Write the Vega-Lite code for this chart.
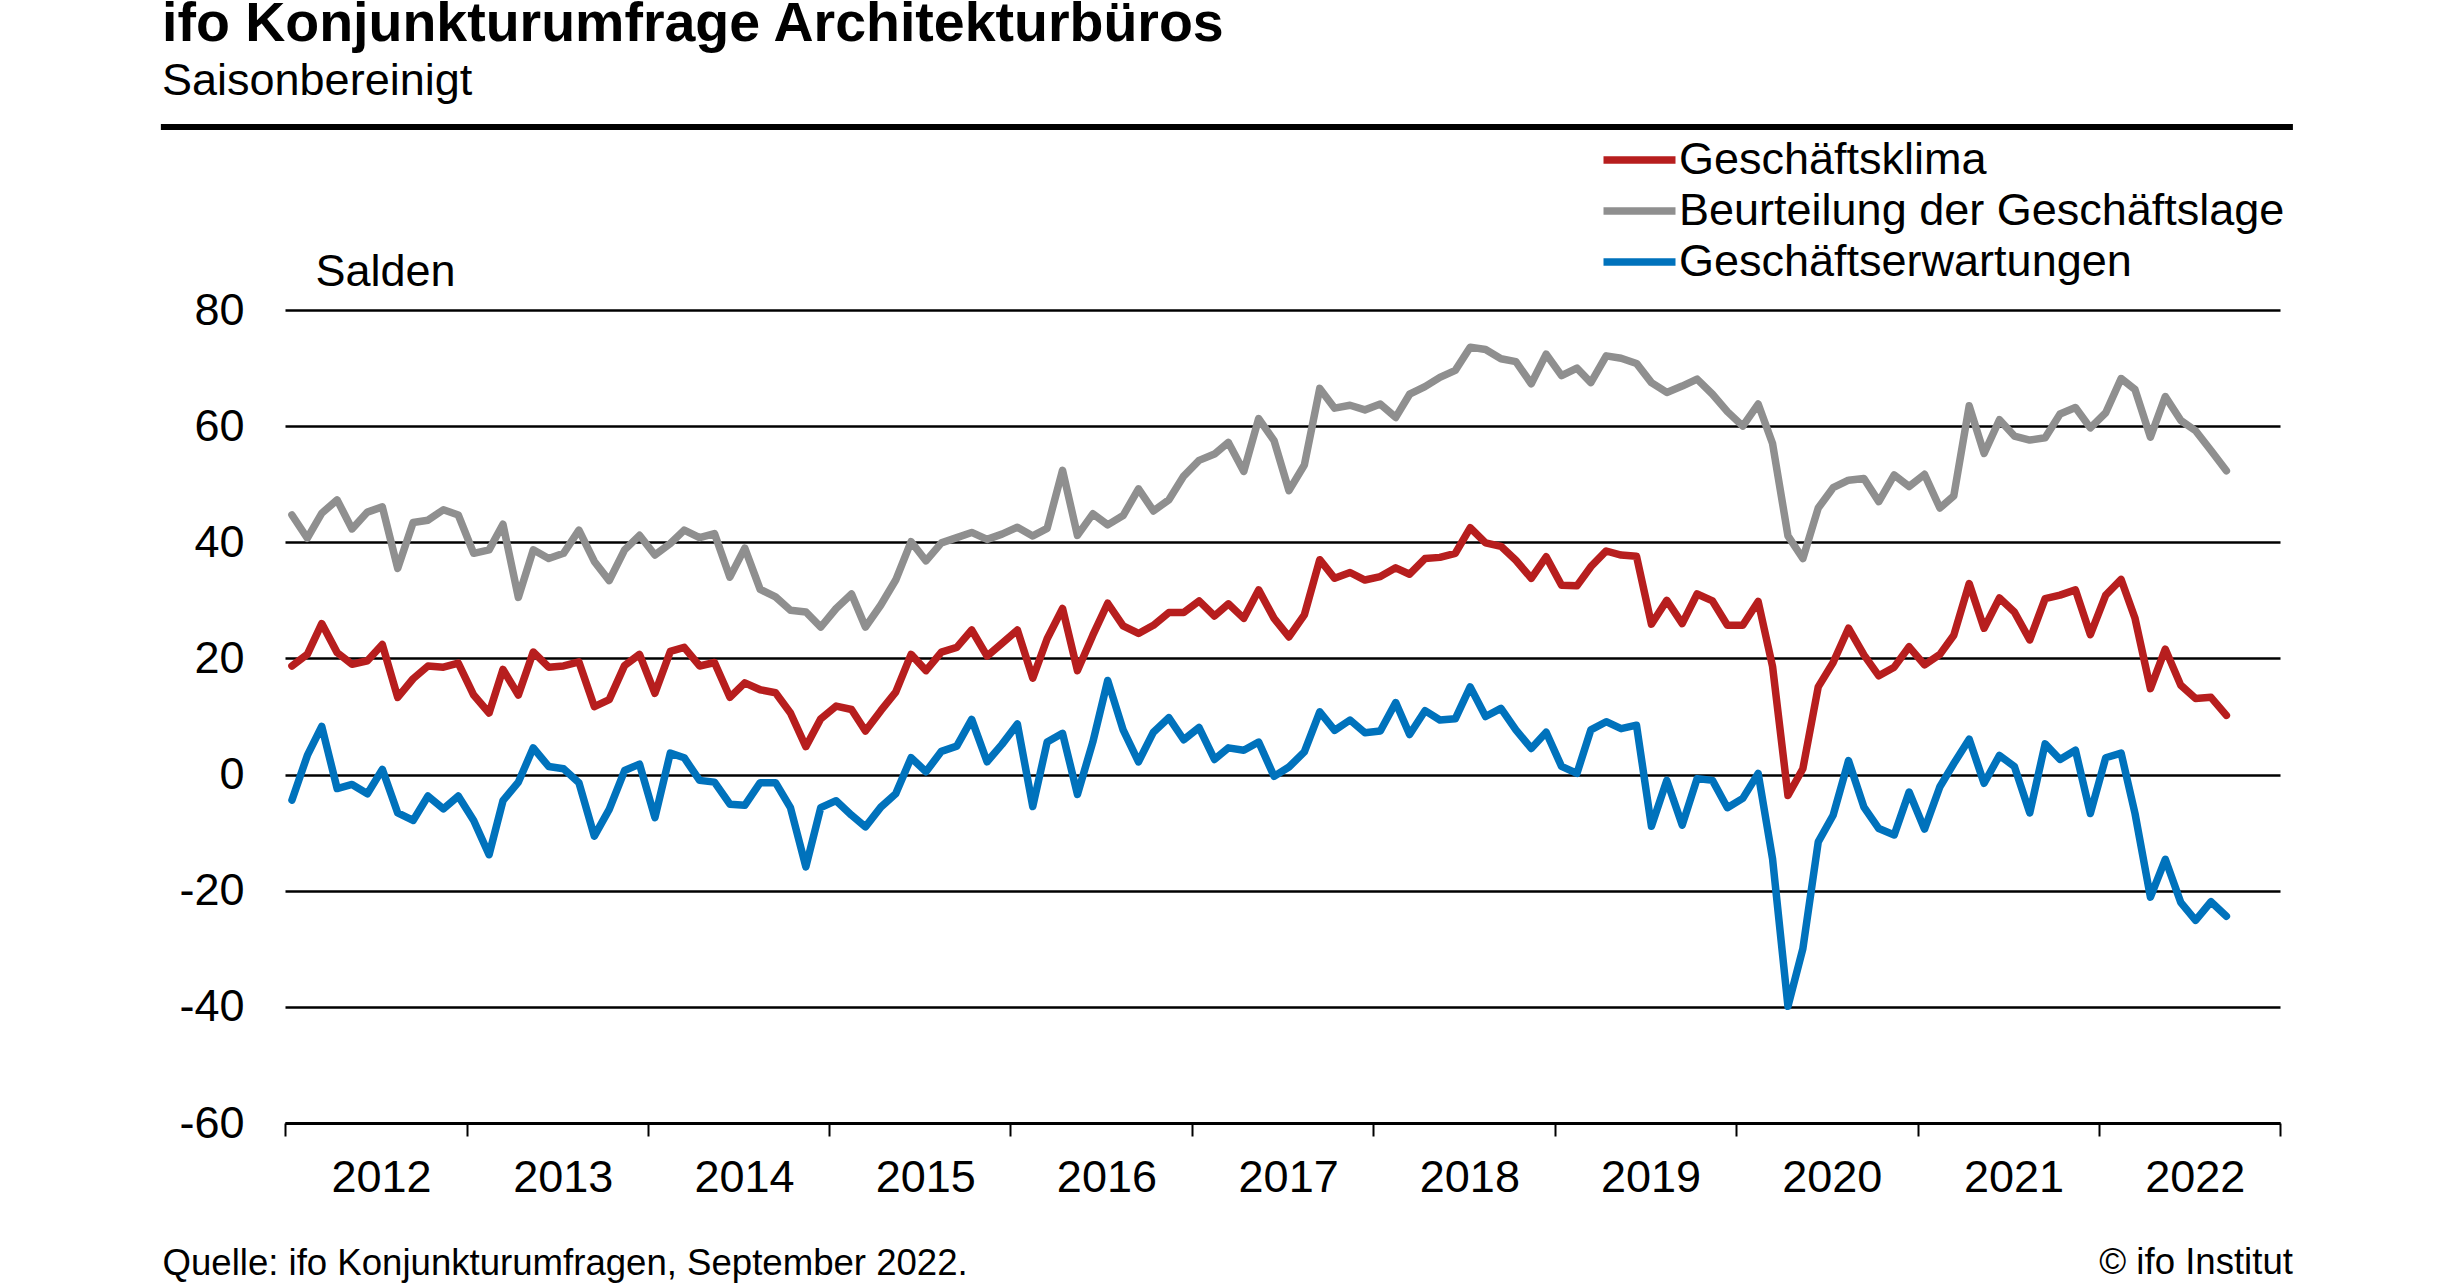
{"$schema":"https://vega.github.io/schema/vega-lite/v6.json","width":1995,"height":813,"autosize":{"type":"none"},"padding":{"left":285,"top":310,"right":174,"bottom":161},"background":"white","config":{"font":"Liberation Sans","view":{"stroke":null}},"title":{"text":"ifo Konjunkturumfrage Architekturbüros","subtitle":"Saisonbereinigt","anchor":"start","frame":"group","dx":-123,"offset":20,"font":"Liberation Sans","fontSize":55.5,"fontWeight":"bold","color":"black","subtitleFont":"Liberation Sans","subtitleFontSize":45,"subtitleColor":"black","subtitlePadding":6.5},"data":{"values":[
{"d":"2012-01-15","Geschäftsklima":18.7,"Beurteilung der Geschäftslage":44.7,"Geschäftserwartungen":-4.4},
{"d":"2012-02-15","Geschäftsklima":20.7,"Beurteilung der Geschäftslage":40.7,"Geschäftserwartungen":3.3},
{"d":"2012-03-15","Geschäftsklima":26,"Beurteilung der Geschäftslage":45,"Geschäftserwartungen":8.3},
{"d":"2012-04-15","Geschäftsklima":21,"Beurteilung der Geschäftslage":47.3,"Geschäftserwartungen":-2.4},
{"d":"2012-05-15","Geschäftsklima":19,"Beurteilung der Geschäftslage":42.3,"Geschäftserwartungen":-1.7},
{"d":"2012-06-15","Geschäftsklima":19.6,"Beurteilung der Geschäftslage":45.2,"Geschäftserwartungen":-3.3},
{"d":"2012-07-15","Geschäftsklima":22.4,"Beurteilung der Geschäftslage":46.1,"Geschäftserwartungen":0.9},
{"d":"2012-08-15","Geschäftsklima":13.3,"Beurteilung der Geschäftslage":35.5,"Geschäftserwartungen":-6.6},
{"d":"2012-09-15","Geschäftsklima":16.5,"Beurteilung der Geschäftslage":43.4,"Geschäftserwartungen":-7.9},
{"d":"2012-10-15","Geschäftsklima":18.7,"Beurteilung der Geschäftslage":43.8,"Geschäftserwartungen":-3.7},
{"d":"2012-11-15","Geschäftsklima":18.5,"Beurteilung der Geschäftslage":45.6,"Geschäftserwartungen":-5.9},
{"d":"2012-12-15","Geschäftsklima":19.2,"Beurteilung der Geschäftslage":44.7,"Geschäftserwartungen":-3.7},
{"d":"2013-01-15","Geschäftsklima":13.7,"Beurteilung der Geschäftslage":38.1,"Geschäftserwartungen":-7.9},
{"d":"2013-02-15","Geschäftsklima":10.6,"Beurteilung der Geschäftslage":38.7,"Geschäftserwartungen":-13.8},
{"d":"2013-03-15","Geschäftsklima":18.1,"Beurteilung der Geschäftslage":43.1,"Geschäftserwartungen":-4.5},
{"d":"2013-04-15","Geschäftsklima":13.7,"Beurteilung der Geschäftslage":30.5,"Geschäftserwartungen":-1.3},
{"d":"2013-05-15","Geschäftsklima":21.1,"Beurteilung der Geschäftslage":38.7,"Geschäftserwartungen":4.6},
{"d":"2013-06-15","Geschäftsklima":18.5,"Beurteilung der Geschäftslage":37.2,"Geschäftserwartungen":1.4},
{"d":"2013-07-15","Geschäftsklima":18.7,"Beurteilung der Geschäftslage":38.1,"Geschäftserwartungen":1},
{"d":"2013-08-15","Geschäftsklima":19.4,"Beurteilung der Geschäftslage":42.1,"Geschäftserwartungen":-1.4},
{"d":"2013-09-15","Geschäftsklima":11.7,"Beurteilung der Geschäftslage":36.7,"Geschäftserwartungen":-10.6},
{"d":"2013-10-15","Geschäftsklima":12.9,"Beurteilung der Geschäftslage":33.4,"Geschäftserwartungen":-6},
{"d":"2013-11-15","Geschäftsklima":18.8,"Beurteilung der Geschäftslage":38.7,"Geschäftserwartungen":0.7},
{"d":"2013-12-15","Geschäftsklima":20.7,"Beurteilung der Geschäftslage":41.2,"Geschäftserwartungen":1.8},
{"d":"2014-01-15","Geschäftsklima":14,"Beurteilung der Geschäftslage":37.8,"Geschäftserwartungen":-7.4},
{"d":"2014-02-15","Geschäftsklima":21.2,"Beurteilung der Geschäftslage":39.8,"Geschäftserwartungen":3.7},
{"d":"2014-03-15","Geschäftsklima":21.9,"Beurteilung der Geschäftslage":42.1,"Geschäftserwartungen":2.9},
{"d":"2014-04-15","Geschäftsklima":18.7,"Beurteilung der Geschäftslage":40.8,"Geschäftserwartungen":-1},
{"d":"2014-05-15","Geschäftsklima":19.3,"Beurteilung der Geschäftslage":41.5,"Geschäftserwartungen":-1.3},
{"d":"2014-06-15","Geschäftsklima":13.3,"Beurteilung der Geschäftslage":34,"Geschäftserwartungen":-5.1},
{"d":"2014-07-15","Geschäftsklima":15.8,"Beurteilung der Geschäftslage":39,"Geschäftserwartungen":-5.3},
{"d":"2014-08-15","Geschäftsklima":14.6,"Beurteilung der Geschäftslage":31.9,"Geschäftserwartungen":-1.4},
{"d":"2014-09-15","Geschäftsklima":14.1,"Beurteilung der Geschäftslage":30.6,"Geschäftserwartungen":-1.4},
{"d":"2014-10-15","Geschäftsklima":10.6,"Beurteilung der Geschäftslage":28.3,"Geschäftserwartungen":-5.7},
{"d":"2014-11-15","Geschäftsklima":4.8,"Beurteilung der Geschäftslage":28,"Geschäftserwartungen":-15.9},
{"d":"2014-12-15","Geschäftsklima":9.6,"Beurteilung der Geschäftslage":25.4,"Geschäftserwartungen":-5.7},
{"d":"2015-01-15","Geschäftsklima":11.8,"Beurteilung der Geschäftslage":28.6,"Geschäftserwartungen":-4.5},
{"d":"2015-02-15","Geschäftsklima":11.2,"Beurteilung der Geschäftslage":31.1,"Geschäftserwartungen":-7},
{"d":"2015-03-15","Geschäftsklima":7.5,"Beurteilung der Geschäftslage":25.4,"Geschäftserwartungen":-9},
{"d":"2015-04-15","Geschäftsklima":11,"Beurteilung der Geschäftslage":29.2,"Geschäftserwartungen":-5.6},
{"d":"2015-05-15","Geschäftsklima":14.2,"Beurteilung der Geschäftslage":33.5,"Geschäftserwartungen":-3.3},
{"d":"2015-06-15","Geschäftsklima":20.7,"Beurteilung der Geschäftslage":40.1,"Geschäftserwartungen":2.9},
{"d":"2015-07-15","Geschäftsklima":17.9,"Beurteilung der Geschäftslage":36.8,"Geschäftserwartungen":0.5},
{"d":"2015-08-15","Geschäftsklima":21.1,"Beurteilung der Geschäftslage":39.9,"Geschäftserwartungen":4},
{"d":"2015-09-15","Geschäftsklima":21.9,"Beurteilung der Geschäftslage":40.8,"Geschäftserwartungen":4.9},
{"d":"2015-10-15","Geschäftsklima":24.9,"Beurteilung der Geschäftslage":41.7,"Geschäftserwartungen":9.5},
{"d":"2015-11-15","Geschäftsklima":20.4,"Beurteilung der Geschäftslage":40.5,"Geschäftserwartungen":2.2},
{"d":"2015-12-15","Geschäftsklima":22.6,"Beurteilung der Geschäftslage":41.4,"Geschäftserwartungen":5.2},
{"d":"2016-01-15","Geschäftsklima":24.9,"Beurteilung der Geschäftslage":42.6,"Geschäftserwartungen":8.7},
{"d":"2016-02-15","Geschäftsklima":16.6,"Beurteilung der Geschäftslage":41.1,"Geschäftserwartungen":-5.5},
{"d":"2016-03-15","Geschäftsklima":23.4,"Beurteilung der Geschäftslage":42.4,"Geschäftserwartungen":5.6},
{"d":"2016-04-15","Geschäftsklima":28.6,"Beurteilung der Geschäftslage":52.4,"Geschäftserwartungen":7.1},
{"d":"2016-05-15","Geschäftsklima":17.9,"Beurteilung der Geschäftslage":41.2,"Geschäftserwartungen":-3.4},
{"d":"2016-06-15","Geschäftsklima":24,"Beurteilung der Geschäftslage":44.9,"Geschäftserwartungen":5.6},
{"d":"2016-07-15","Geschäftsklima":29.5,"Beurteilung der Geschäftslage":43,"Geschäftserwartungen":16.2},
{"d":"2016-08-15","Geschäftsklima":25.6,"Beurteilung der Geschäftslage":44.6,"Geschäftserwartungen":7.7},
{"d":"2016-09-15","Geschäftsklima":24.3,"Beurteilung der Geschäftslage":49.2,"Geschäftserwartungen":2.2},
{"d":"2016-10-15","Geschäftsklima":25.7,"Beurteilung der Geschäftslage":45.4,"Geschäftserwartungen":7.3},
{"d":"2016-11-15","Geschäftsklima":27.9,"Beurteilung der Geschäftslage":47.3,"Geschäftserwartungen":9.8},
{"d":"2016-12-15","Geschäftsklima":27.9,"Beurteilung der Geschäftslage":51.4,"Geschäftserwartungen":6},
{"d":"2017-01-15","Geschäftsklima":29.9,"Beurteilung der Geschäftslage":54.1,"Geschäftserwartungen":8.1},
{"d":"2017-02-15","Geschäftsklima":27.3,"Beurteilung der Geschäftslage":55.2,"Geschäftserwartungen":2.6},
{"d":"2017-03-15","Geschäftsklima":29.4,"Beurteilung der Geschäftslage":57.2,"Geschäftserwartungen":4.6},
{"d":"2017-04-15","Geschäftsklima":26.9,"Beurteilung der Geschäftslage":52.2,"Geschäftserwartungen":4.2},
{"d":"2017-05-15","Geschäftsklima":31.8,"Beurteilung der Geschäftslage":61.3,"Geschäftserwartungen":5.6},
{"d":"2017-06-15","Geschäftsklima":26.9,"Beurteilung der Geschäftslage":57.5,"Geschäftserwartungen":-0.3},
{"d":"2017-07-15","Geschäftsklima":23.7,"Beurteilung der Geschäftslage":48.9,"Geschäftserwartungen":1.3},
{"d":"2017-08-15","Geschäftsklima":27.5,"Beurteilung der Geschäftslage":53.3,"Geschäftserwartungen":3.9},
{"d":"2017-09-15","Geschäftsklima":37,"Beurteilung der Geschäftslage":66.5,"Geschäftserwartungen":10.8},
{"d":"2017-10-15","Geschäftsklima":33.8,"Beurteilung der Geschäftslage":63.1,"Geschäftserwartungen":7.6},
{"d":"2017-11-15","Geschäftsklima":34.8,"Beurteilung der Geschäftslage":63.6,"Geschäftserwartungen":9.4},
{"d":"2017-12-15","Geschäftsklima":33.5,"Beurteilung der Geschäftslage":62.8,"Geschäftserwartungen":7.2},
{"d":"2018-01-15","Geschäftsklima":34.1,"Beurteilung der Geschäftslage":63.8,"Geschäftserwartungen":7.5},
{"d":"2018-02-15","Geschäftsklima":35.6,"Beurteilung der Geschäftslage":61.5,"Geschäftserwartungen":12.4},
{"d":"2018-03-15","Geschäftsklima":34.5,"Beurteilung der Geschäftslage":65.5,"Geschäftserwartungen":6.9},
{"d":"2018-04-15","Geschäftsklima":37.2,"Beurteilung der Geschäftslage":66.8,"Geschäftserwartungen":11},
{"d":"2018-05-15","Geschäftsklima":37.4,"Beurteilung der Geschäftslage":68.4,"Geschäftserwartungen":9.4},
{"d":"2018-06-15","Geschäftsklima":38.1,"Beurteilung der Geschäftslage":69.6,"Geschäftserwartungen":9.6},
{"d":"2018-07-15","Geschäftsklima":42.5,"Beurteilung der Geschäftslage":73.6,"Geschäftserwartungen":15.1},
{"d":"2018-08-15","Geschäftsklima":39.9,"Beurteilung der Geschäftslage":73.2,"Geschäftserwartungen":10},
{"d":"2018-09-15","Geschäftsklima":39.3,"Beurteilung der Geschäftslage":71.6,"Geschäftserwartungen":11.4},
{"d":"2018-10-15","Geschäftsklima":36.9,"Beurteilung der Geschäftslage":71.1,"Geschäftserwartungen":7.7},
{"d":"2018-11-15","Geschäftsklima":33.8,"Beurteilung der Geschäftslage":67.3,"Geschäftserwartungen":4.5},
{"d":"2018-12-15","Geschäftsklima":37.5,"Beurteilung der Geschäftslage":72.4,"Geschäftserwartungen":7.3},
{"d":"2019-01-15","Geschäftsklima":32.6,"Beurteilung der Geschäftslage":68.7,"Geschäftserwartungen":1.4},
{"d":"2019-02-15","Geschäftsklima":32.5,"Beurteilung der Geschäftslage":70,"Geschäftserwartungen":0.2},
{"d":"2019-03-15","Geschäftsklima":35.8,"Beurteilung der Geschäftslage":67.5,"Geschäftserwartungen":7.7},
{"d":"2019-04-15","Geschäftsklima":38.5,"Beurteilung der Geschäftslage":72.1,"Geschäftserwartungen":9.1},
{"d":"2019-05-15","Geschäftsklima":37.8,"Beurteilung der Geschäftslage":71.7,"Geschäftserwartungen":7.9},
{"d":"2019-06-15","Geschäftsklima":37.6,"Beurteilung der Geschäftslage":70.8,"Geschäftserwartungen":8.5},
{"d":"2019-07-15","Geschäftsklima":25.9,"Beurteilung der Geschäftslage":67.5,"Geschäftserwartungen":-8.9},
{"d":"2019-08-15","Geschäftsklima":30,"Beurteilung der Geschäftslage":65.8,"Geschäftserwartungen":-1},
{"d":"2019-09-15","Geschäftsklima":26,"Beurteilung der Geschäftslage":66.9,"Geschäftserwartungen":-8.7},
{"d":"2019-10-15","Geschäftsklima":31.1,"Beurteilung der Geschäftslage":68.1,"Geschäftserwartungen":-0.7},
{"d":"2019-11-15","Geschäftsklima":29.9,"Beurteilung der Geschäftslage":65.5,"Geschäftserwartungen":-1},
{"d":"2019-12-15","Geschäftsklima":25.7,"Beurteilung der Geschäftslage":62.5,"Geschäftserwartungen":-5.7},
{"d":"2020-01-15","Geschäftsklima":25.7,"Beurteilung der Geschäftslage":60,"Geschäftserwartungen":-4.1},
{"d":"2020-02-15","Geschäftsklima":29.8,"Beurteilung der Geschäftslage":63.8,"Geschäftserwartungen":0.2},
{"d":"2020-03-15","Geschäftsklima":18.6,"Beurteilung der Geschäftslage":57,"Geschäftserwartungen":-14.5},
{"d":"2020-04-15","Geschäftsklima":-3.6,"Beurteilung der Geschäftslage":41.1,"Geschäftserwartungen":-39.9},
{"d":"2020-05-15","Geschäftsklima":1,"Beurteilung der Geschäftslage":37.2,"Geschäftserwartungen":-30},
{"d":"2020-06-15","Geschäftsklima":15.1,"Beurteilung der Geschäftslage":45.9,"Geschäftserwartungen":-11.6},
{"d":"2020-07-15","Geschäftsklima":19.3,"Beurteilung der Geschäftslage":49.4,"Geschäftserwartungen":-7},
{"d":"2020-08-15","Geschäftsklima":25.2,"Beurteilung der Geschäftslage":50.7,"Geschäftserwartungen":2.4},
{"d":"2020-09-15","Geschäftsklima":20.6,"Beurteilung der Geschäftslage":51,"Geschäftserwartungen":-5.6},
{"d":"2020-10-15","Geschäftsklima":17,"Beurteilung der Geschäftslage":47,"Geschäftserwartungen":-9.3},
{"d":"2020-11-15","Geschäftsklima":18.5,"Beurteilung der Geschäftslage":51.6,"Geschäftserwartungen":-10.4},
{"d":"2020-12-15","Geschäftsklima":22,"Beurteilung der Geschäftslage":49.6,"Geschäftserwartungen":-3},
{"d":"2021-01-15","Geschäftsklima":18.9,"Beurteilung der Geschäftslage":51.7,"Geschäftserwartungen":-9.4},
{"d":"2021-02-15","Geschäftsklima":20.7,"Beurteilung der Geschäftslage":45.9,"Geschäftserwartungen":-2.1},
{"d":"2021-03-15","Geschäftsklima":24,"Beurteilung der Geschäftslage":48,"Geschäftserwartungen":1.9},
{"d":"2021-04-15","Geschäftsklima":32.9,"Beurteilung der Geschäftslage":63.5,"Geschäftserwartungen":6.1},
{"d":"2021-05-15","Geschäftsklima":25.2,"Beurteilung der Geschäftslage":55.3,"Geschäftserwartungen":-1.5},
{"d":"2021-06-15","Geschäftsklima":30.4,"Beurteilung der Geschäftslage":61.1,"Geschäftserwartungen":3.3},
{"d":"2021-07-15","Geschäftsklima":28,"Beurteilung der Geschäftslage":58.3,"Geschäftserwartungen":1.4},
{"d":"2021-08-15","Geschäftsklima":23.2,"Beurteilung der Geschäftslage":57.6,"Geschäftserwartungen":-6.6},
{"d":"2021-09-15","Geschäftsklima":30.3,"Beurteilung der Geschäftslage":58,"Geschäftserwartungen":5.3},
{"d":"2021-10-15","Geschäftsklima":30.9,"Beurteilung der Geschäftslage":62.1,"Geschäftserwartungen":2.6},
{"d":"2021-11-15","Geschäftsklima":31.8,"Beurteilung der Geschäftslage":63.2,"Geschäftserwartungen":4.2},
{"d":"2021-12-15","Geschäftsklima":24.1,"Beurteilung der Geschäftslage":59.7,"Geschäftserwartungen":-6.7},
{"d":"2022-01-15","Geschäftsklima":30.9,"Beurteilung der Geschäftslage":62.3,"Geschäftserwartungen":2.9},
{"d":"2022-02-15","Geschäftsklima":33.6,"Beurteilung der Geschäftslage":68.2,"Geschäftserwartungen":3.7},
{"d":"2022-03-15","Geschäftsklima":26.9,"Beurteilung der Geschäftslage":66.3,"Geschäftserwartungen":-6.7},
{"d":"2022-04-15","Geschäftsklima":14.8,"Beurteilung der Geschäftslage":58.1,"Geschäftserwartungen":-21.1},
{"d":"2022-05-15","Geschäftsklima":21.6,"Beurteilung der Geschäftslage":65.1,"Geschäftserwartungen":-14.6},
{"d":"2022-06-15","Geschäftsklima":15.4,"Beurteilung der Geschäftslage":61,"Geschäftserwartungen":-22},
{"d":"2022-07-15","Geschäftsklima":13.1,"Beurteilung der Geschäftslage":59.2,"Geschäftserwartungen":-25.1},
{"d":"2022-08-15","Geschäftsklima":13.3,"Beurteilung der Geschäftslage":55.8,"Geschäftserwartungen":-21.9},
{"d":"2022-09-15","Geschäftsklima":10.2,"Beurteilung der Geschäftslage":52.3,"Geschäftserwartungen":-24.4}
]},
"layer":[
{"transform":[{"fold":["Geschäftsklima","Beurteilung der Geschäftslage","Geschäftserwartungen"],"as":["Serie","Wert"]}],
"mark":{"type":"line","strokeWidth":7.5,"strokeCap":"round","strokeJoin":"round"},
"encoding":{
"x":{"field":"d","type":"temporal","scale":{"domain":[{"year":2012,"month":1,"date":1},{"year":2023,"month":1,"date":1}]},"axis":{"title":"Quelle: ifo Konjunkturumfragen, September 2022.","titleFont":"Liberation Sans","titleFontSize":36.6,"titleFontWeight":"normal","titleColor":"black","titleAnchor":"start","titleAlign":"left","titleBaseline":"alphabetic","titleX":-123,"titleY":151,"values":[{"year":2012},{"year":2013},{"year":2014},{"year":2015},{"year":2016},{"year":2017},{"year":2018},{"year":2019},{"year":2020},{"year":2021},{"year":2022},{"year":2023}],"labelExpr":"year(datum.value)<2023?''+year(datum.value):''","labelOffset":96,"labelFontSize":45,"labelColor":"black","labelPadding":19,"labelOverlap":false,"labelFlush":false,"labelBound":false,"grid":false,"tickColor":"black","tickSize":13,"tickWidth":2,"domainColor":"black","domainWidth":3}},
"y":{"field":"Wert","type":"quantitative","scale":{"domain":[-60,80],"nice":false},"axis":{"title":"Salden","titleFont":"Liberation Sans","titleFontSize":45,"titleFontWeight":"normal","titleColor":"black","titleAngle":0,"titleAlign":"left","titleBaseline":"alphabetic","titleX":30,"titleY":-25,"values":[-60,-40,-20,0,20,40,60,80],"labelExpr":"''+datum.value","ticks":false,"domain":false,"labelFontSize":45,"labelColor":"black","labelPadding":41,"grid":true,"gridColor":"black","gridWidth":2.5,"gridOpacity":1}},
"color":{"field":"Serie","type":"nominal","scale":{"domain":["Geschäftsklima","Beurteilung der Geschäftslage","Geschäftserwartungen"],"range":["#b71e1e","#8f8f8f","#0072bc"]},"legend":{"orient":"none","legendX":1332,"legendY":-172.5,"title":null,"symbolType":"M-3.6,0H3.6","symbolSize":400,"symbolStrokeWidth":7.5,"symbolOpacity":1,"labelFontSize":45,"labelColor":"black","labelOffset":17,"labelLimit":800,"rowPadding":5,"padding":0}}
}},
{"data":{"values":[{"x":"2011-04-26","x2":"2023-01-27","y":111.5}]},
"mark":{"type":"rule","strokeWidth":6,"color":"black"},
"encoding":{"x":{"field":"x","type":"temporal"},"x2":{"field":"x2"},"y":{"field":"y","type":"quantitative"}}},
{"data":{"values":[{"x":"2023-01-27","y":-86,"t":"© ifo Institut"}]},
"mark":{"type":"text","align":"right","baseline":"alphabetic","fontSize":36.6,"color":"black"},
"encoding":{"x":{"field":"x","type":"temporal"},"y":{"field":"y","type":"quantitative"},"text":{"field":"t"}}}
]}
